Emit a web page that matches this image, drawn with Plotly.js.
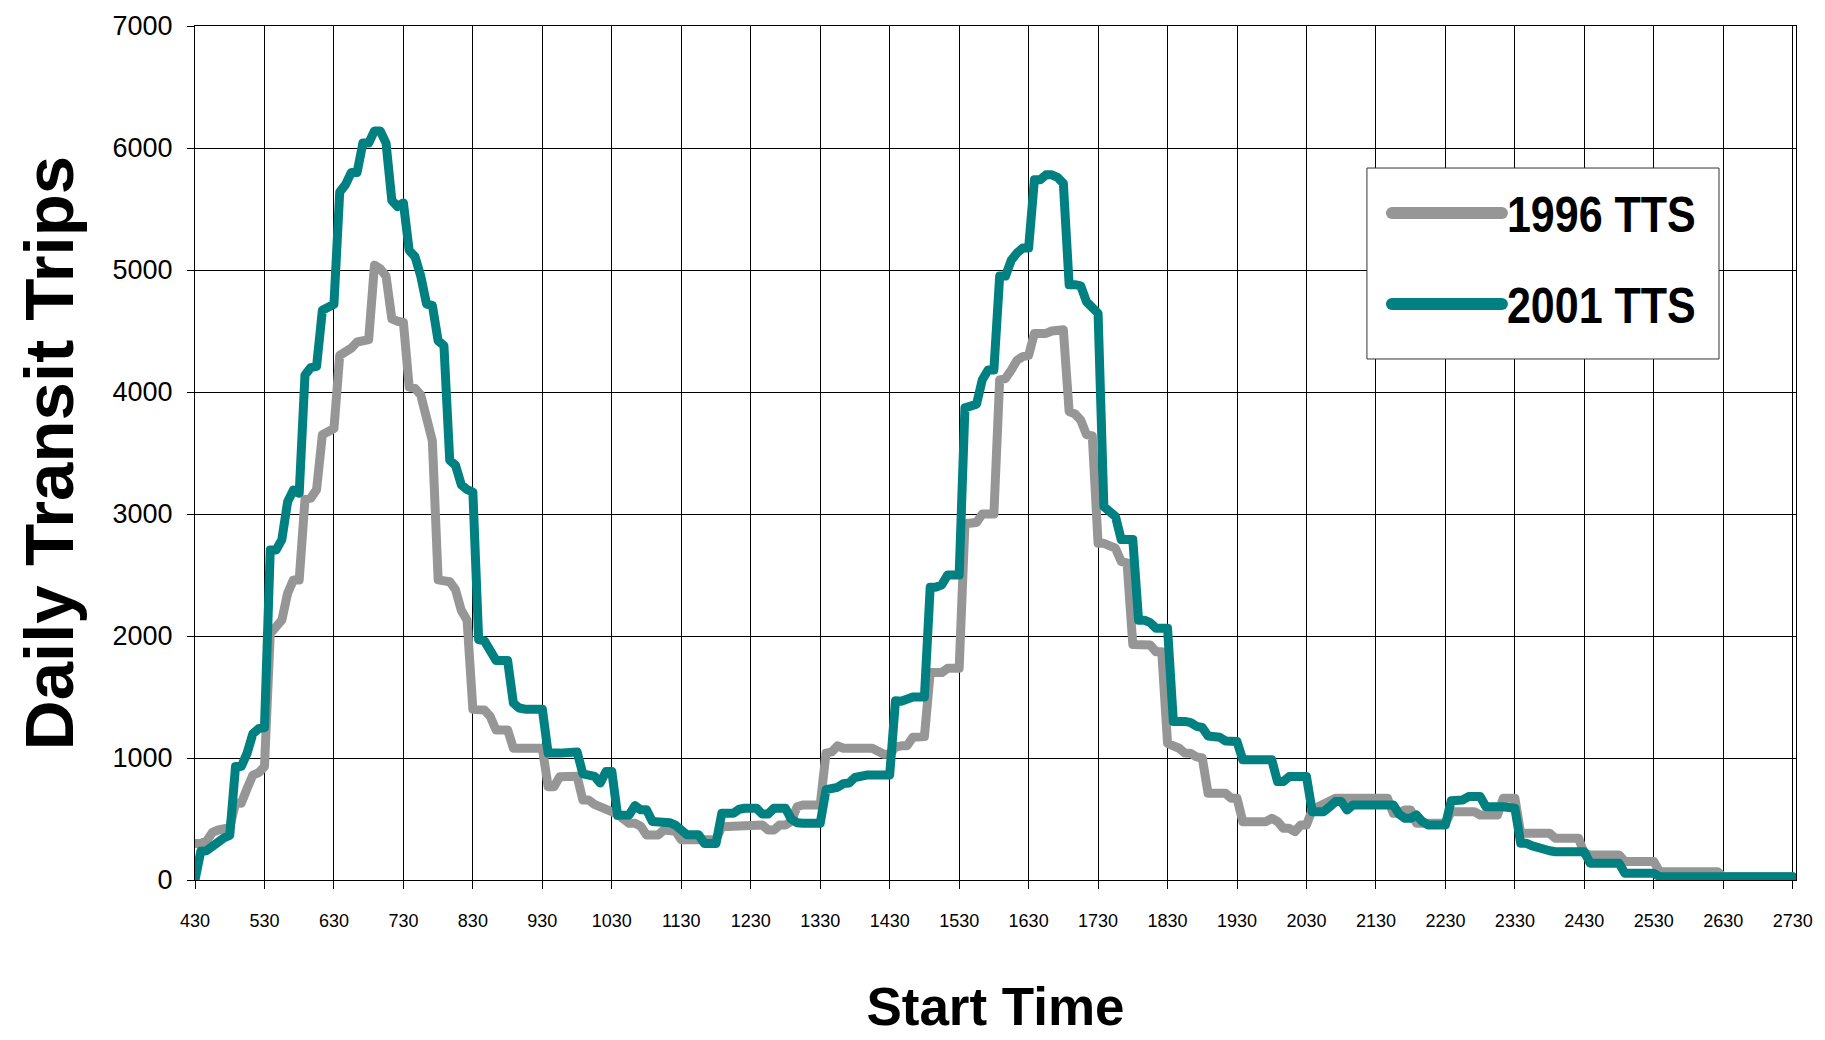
<!DOCTYPE html>
<html>
<head>
<meta charset="utf-8">
<script src="https://cdn.plot.ly/plotly-3.0.1.min.js"></script>
<style>
  html, body { margin: 0; padding: 0; background: #fff; }
  #chart { width: 1825px; height: 1040px; }
  .js-line { stroke-linejoin: round; stroke-linecap: round; }
</style>
</head>
<body>
<div id="chart"></div>
<script>
// Start times (HHMM, hours past midnight continue to 27:30) and daily transit trips
const t1996 = [430,435,440,445,450,455,500,505,510,515,520,525,530,535,540,545,550,555,600,605,610,615,620,625,630,635,640,645,650,655,700,705,710,715,720,725,730,735,740,745,750,755,800,805,810,815,820,825,830,840,845,850,900,905,930,935,940,945,1000,1005,1010,1015,1020,1025,1030,1035,1040,1045,1050,1055,1100,1110,1115,1120,1125,1130,1200,1205,1225,1230,1240,1245,1250,1255,1300,1305,1310,1315,1330,1335,1340,1345,1350,1415,1420,1425,1430,1435,1440,1445,1450,1455,1500,1505,1515,1520,1530,1535,1540,1545,1550,1600,1605,1610,1615,1620,1625,1630,1635,1645,1650,1655,1700,1705,1710,1715,1720,1725,1730,1735,1740,1745,1750,1755,1800,1810,1815,1820,1825,1830,1835,1840,1845,1850,1855,1900,1905,1920,1925,1930,1935,1955,2000,2005,2010,2015,2020,2025,2030,2035,2040,2045,2050,2055,2140,2145,2150,2155,2200,2205,2230,2235,2255,2300,2315,2320,2330,2335,2400,2405,2425,2430,2435,2500,2505,2530,2535,2625,2630,2730];
const v1996 = [300,300,320,390,410,420,430,630,630,750,860,880,930,2020,2063,2130,2350,2460,2460,3120,3130,3200,3650,3680,3700,4300,4320,4360,4410,4420,4430,5040,5010,4950,4600,4580,4570,4040,4030,3975,3780,3600,2460,2450,2445,2380,2210,2130,1400,1393,1340,1230,1230,1080,1080,765,765,847,850,656,656,620,601,580,574,540,500,465,465,440,369,369,410,410,400,330,330,437,437,451,451,410,410,451,451,480,600,615,615,1040,1050,1100,1080,1080,1050,1030,1030,1090,1100,1100,1170,1176,1176,1700,1700,1735,1735,2920,2920,2930,3000,3000,4100,4110,4180,4260,4290,4300,4480,4480,4500,4510,4510,3840,3820,3770,3650,3640,2760,2760,2740,2720,2610,2600,1930,1930,1926,1871,1871,1120,1106,1080,1040,1038,1010,1000,711,711,670,670,478,478,506,480,424,424,396,451,451,574,600,620,650,670,670,547,547,574,574,465,465,560,560,533,533,670,670,383,383,342,342,215,205,205,151,151,68,68,27,27];

const t2001 = [430,435,440,445,450,455,500,505,510,515,520,525,530,535,540,545,550,555,600,605,610,615,620,625,630,635,640,645,650,655,700,705,710,715,720,725,730,735,740,745,750,755,800,805,810,815,820,825,830,835,840,845,850,900,905,910,915,930,935,945,950,1000,1005,1010,1015,1020,1025,1030,1035,1045,1050,1055,1100,1105,1115,1120,1125,1130,1135,1145,1150,1200,1205,1215,1220,1225,1235,1240,1245,1250,1300,1305,1310,1315,1330,1335,1340,1345,1350,1355,1400,1405,1410,1430,1435,1440,1445,1450,1500,1505,1510,1515,1520,1530,1535,1540,1545,1550,1555,1600,1605,1610,1615,1620,1625,1630,1635,1640,1645,1650,1655,1700,1705,1710,1715,1720,1725,1730,1735,1740,1745,1750,1800,1805,1810,1815,1820,1830,1835,1845,1850,1855,1900,1905,1915,1920,1930,1935,2000,2005,2010,2015,2030,2035,2045,2050,2055,2100,2105,2110,2145,2150,2155,2200,2205,2210,2215,2230,2235,2245,2250,2300,2305,2320,2325,2330,2335,2340,2345,2350,2355,2400,2405,2430,2435,2500,2505,2530,2535,2730];
const v2001 = [0,235,240,280,320,345,365,930,930,1040,1200,1240,1250,2705,2705,2790,3100,3197,3170,4140,4200,4210,4670,4700,4720,5640,5700,5800,5800,6040,6040,6140,6140,6040,5570,5520,5550,5160,5110,4950,4720,4710,4420,4380,3440,3400,3240,3200,3180,1970,1960,1880,1800,1800,1450,1410,1400,1400,1040,1040,1045,1050,870,860,850,795,890,890,530,533,610,575,575,480,475,470,450,400,370,370,300,300,547,547,580,588,588,540,540,588,588,500,470,465,465,740,750,760,790,795,840,848,860,861,1470,1465,1480,1500,1500,2400,2400,2420,2500,2500,3870,3880,3900,4100,4180,4180,4950,4950,5080,5140,5180,5180,5740,5740,5780,5780,5760,5710,4880,4880,4870,4740,4680,4645,3060,3030,2980,2790,2790,2130,2130,2110,2063,2063,1300,1300,1290,1260,1250,1180,1170,1140,1135,985,985,807,807,848,848,560,560,600,643,643,574,615,615,540,506,506,533,480,451,451,650,656,684,684,601,601,595,588,301,301,280,260,260,240,232,232,137,137,55,55,27,27];

const tickLabels = ['430','530','630','730','830','930','1030','1130','1230','1330','1430','1530','1630','1730','1830','1930','2030','2130','2230','2330','2430','2530','2630','2730'];
const seriesNames = ['1996 TTS', '2001 TTS'];

// HHMM -> minutes after midnight, so the time axis is linear
function toMinutes(hhmm) {
  const h = Math.floor(hhmm / 100);
  return h * 60 + (hhmm - h * 100);
}

const FONT = 'Liberation Sans, Arial, Helvetica, sans-serif';

const traces = [
  {
    x: t1996.map(toMinutes), y: v1996,
    name: seriesNames[0], legendgroup: 'a',
    type: 'scatter', mode: 'lines',
    line: { color: '#969696', width: 9, shape: 'linear' },
    hoverinfo: 'skip'
  },
  {
    x: t2001.map(toMinutes), y: v2001,
    name: seriesNames[1], legendgroup: 'b',
    type: 'scatter', mode: 'lines',
    line: { color: '#008080', width: 9, shape: 'linear' },
    hoverinfo: 'skip'
  }
];

const tickVals = tickLabels.map(s => toMinutes(parseInt(s, 10)));

const layout = {
  width: 1825, height: 1040,
  paper_bgcolor: '#ffffff', plot_bgcolor: '#ffffff',
  margin: { l: 195, r: 29, t: 26, b: 160 },
  showlegend: true,
  font: { family: FONT, color: '#000' },
  xaxis: {
    range: [tickVals[0], tickVals[tickVals.length - 1] + 2.8],
    tickmode: 'array', tickvals: tickVals, ticktext: tickLabels,
    ticks: 'outside', ticklen: 8, tickwidth: 1, tickcolor: '#000',
    showgrid: true, gridcolor: '#000', gridwidth: 1,
    showline: true, linecolor: '#000', linewidth: 1, mirror: true,
    zeroline: false,
    tickfont: { family: FONT, size: 18, color: '#000' },
    ticklabelstandoff: 16,
    automargin: false,
    title: { text: 'Start Time', font: { family: FONT, size: 53, weight: 'bold', color: '#000' }, standoff: 58 }
  },
  yaxis: {
    range: [0, 7000], tick0: 0, dtick: 1000,
    ticks: 'outside', ticklen: 7, tickwidth: 1, tickcolor: '#000',
    showgrid: true, gridcolor: '#000', gridwidth: 1,
    showline: true, linecolor: '#000', linewidth: 1, mirror: true,
    zeroline: false,
    tickfont: { family: FONT, size: 27, color: '#000' },
    ticklabelstandoff: 9,
    automargin: false,
    title: { text: 'Daily Transit Trips', font: { family: FONT, size: 69, weight: 'bold', color: '#000' }, standoff: 16 }
  },
  // white framed panel behind the legend entries
  shapes: [{
    type: 'rect', xref: 'paper', yref: 'paper', layer: 'above',
    x0: 0.7320, x1: 0.9519, y0: 0.6101, y1: 0.8337,
    fillcolor: '#ffffff', line: { color: '#333333', width: 1 }
  }],
  legend: {
    x: 0.7320, y: 0.8267, xanchor: 'left', yanchor: 'top',
    bgcolor: 'rgba(0,0,0,0)', borderwidth: 0,
    font: { family: FONT, size: 50, weight: 'bold', color: '#000' },
    itemwidth: 110, tracegroupgap: 23, traceorder: 'grouped',
    indentation: 20
  }
};

Plotly.newPlot('chart', traces, layout, { displayModeBar: false, staticPlot: true }).then(gd => {
  // condensed legend lettering and heavier legend swatches
  gd.querySelectorAll('.legend .legendtext').forEach(t => {
    const w = t.getComputedTextLength();
    t.setAttribute('textLength', (w * 0.86).toFixed(1));
    t.setAttribute('lengthAdjust', 'spacingAndGlyphs');
  });
  gd.querySelectorAll('.legend path.js-line').forEach(p => {
    p.style.strokeWidth = '12px';
  });
});
</script>
</body>
</html>
